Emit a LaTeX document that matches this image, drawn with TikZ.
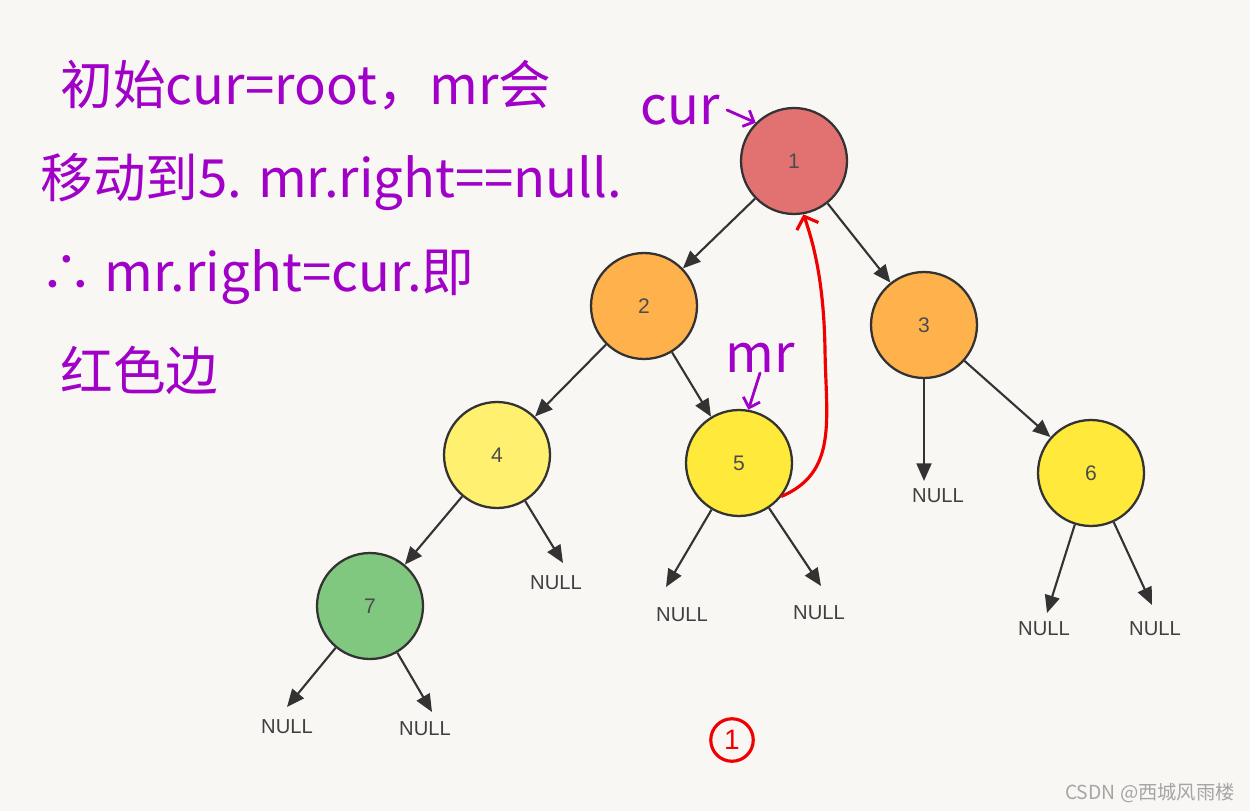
\documentclass[tikz,border=0pt]{standalone}
\usepackage{fontspec}
\usepackage{xcolor}
\usepackage{tikz}
\usetikzlibrary{arrows.meta, positioning}
\setmainfont{Liberation Sans}
\newfontfamily\cjk{Noto Sans CJK SC}
\definecolor{paper}{RGB}{249,247,243}
\definecolor{rootred}{RGB}{226,114,114}
\definecolor{midorange}{RGB}{255,178,76}
\definecolor{paleyellow}{RGB}{255,240,112}
\definecolor{brightyellow}{RGB}{255,234,59}
\definecolor{leafgreen}{RGB}{128,200,128}
\definecolor{edgedark}{RGB}{51,51,51}
\definecolor{inkpurple}{RGB}{160,0,200}
\definecolor{inkred}{RGB}{240,0,0}
\definecolor{markgrey}{RGB}{165,165,165}
\tikzset{
  treenode/.style={circle, draw=edgedark, line width=1.3pt,
    minimum size=2.12cm, inner sep=0pt,
    font=\fontsize{12}{14}\selectfont, text=black!70},
  nulltext/.style={font=\fontsize{11.5}{13}\selectfont, text=black!75, inner sep=1pt},
  arrow/.style={-{Triangle[length=10pt,width=8.5pt]}, line width=1.2pt, color=edgedark},
  inkarrow/.style={-{Straight Barb[length=5pt,width=10pt]}, line width=1.6pt,
    color=inkpurple, line cap=round},
  redarrow/.style={-{Straight Barb[length=6pt,width=13pt]}, line width=1.8pt,
    color=inkred, line cap=round},
  note/.style={font=\cjk\fontsize{30}{33}\selectfont, text=inkpurple,
    anchor=west, inner sep=0pt}
}

\begin{document}
\begin{tikzpicture}[x=0.02cm, y=-0.02cm]
  \fill[paper] (0,0) rectangle (1250,811);
  % tree
  \node[treenode, fill=rootred] (n1) at (794,161) {1};
  \node[treenode, fill=midorange] (n2) at (644,306) {2};
  \node[treenode, fill=midorange] (n3) at (924,325) {3};
  \node[treenode, fill=paleyellow] (n4) at (497,455) {4};
  \node[treenode, fill=brightyellow] (n5) at (739,463) {5};
  \node[treenode, fill=brightyellow] (n6) at (1091,473) {6};
  \node[treenode, fill=leafgreen] (n7) at (370,606) {7};
  \draw[arrow] (n1) -- (n2);
  \draw[arrow] (n1) -- (n3);
  \draw[arrow] (n2) -- (n4);
  \draw[arrow] (n2) -- (n5);
  \draw[arrow] (n3) -- (n6);
  \draw[arrow] (n4) -- (n7);
  % NULL leaves
  \node[nulltext] (null4) at (556,583) {NULL};
  \node[nulltext] (null5a) at (682,615) {NULL};
  \node[nulltext] (null5b) at (819,613) {NULL};
  \node[nulltext] (null3) at (938,496) {NULL};
  \node[nulltext] (null6a) at (1044,629) {NULL};
  \node[nulltext] (null6b) at (1155,629) {NULL};
  \node[nulltext] (null7a) at (287,727) {NULL};
  \node[nulltext] (null7b) at (425,729) {NULL};
  \coordinate (t4) at (563,563);
  \coordinate (t5a) at (666,587);
  \coordinate (t5b) at (821,586);
  \coordinate (t3) at (924,481);
  \coordinate (t6a) at (1047,613);
  \coordinate (t6b) at (1152,605);
  \coordinate (t7a) at (287,707);
  \coordinate (t7b) at (432,712);
  \draw[arrow] (n4) -- (t4);
  \draw[arrow] (n5) -- (t5a);
  \draw[arrow] (n5) -- (t5b);
  \draw[arrow] (n3.south) -- (t3);
  \draw[arrow] (n6) -- (t6a);
  \draw[arrow] (n6) -- (t6b);
  \draw[arrow] (n7) -- (t7a);
  \draw[arrow] (n7) -- (t7b);
  % notes
  \node[note] (note1) at (60,85) {初始cur=root，mr会};
  \node[note] (note2) at (40,182) {移动到5. mr.right==null.};
  \node[note] (note3) at (40,277) {∴ mr.right=cur.即};
  \node[note] (note4) at (60,370) {红色边};
  \node[note, anchor=center] (curlbl) at (680,110) {cur};
  \node[note, anchor=center] (mrlbl) at (760,358) {mr};
  \draw[inkarrow] ([xshift=4pt]curlbl.east) -- (n1.135);
  \draw[inkarrow] (mrlbl.south) -- (n5.80);
  % red thread
  \draw[redarrow] (n5.-38) .. controls (838,472) and (826,420) .. (825,350)
    .. controls (824,290) and (816,250) .. (n1.-80);
  \node[circle, draw=inkred, line width=1.8pt, minimum size=0.85cm, inner sep=0pt,
    text=inkred, font=\fontsize{16}{18}\selectfont] (step1) at (732,740) {1};
  % watermark
  \node[font=\cjk\fontsize{11}{13}\selectfont, text=markgrey] (mark) at (1150,793) {CSDN @西城风雨楼};
\end{tikzpicture}
\end{document}
